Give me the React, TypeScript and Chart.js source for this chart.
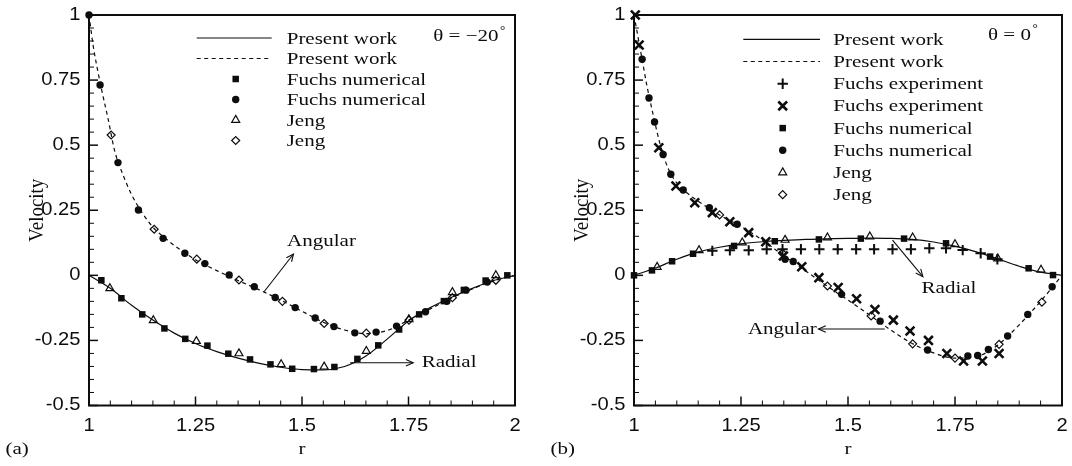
import React, { useEffect, useRef } from 'react';
import { Chart, registerables } from 'chart.js';

Chart.register(...registerables);

const INK = '#0d0d0d';
const SANS = '"Liberation Sans", Arial, Helvetica, sans-serif';
const SERIF = '"Liberation Serif", "Times New Roman", Times, serif';

// ---- axis ticks ----
const xTickValues = [1, 1.25, 1.5, 1.75, 2];
const xTickLabels = ['1', '1.25', '1.5', '1.75', '2'];
const yTickValues = [-0.5, -0.25, 0, 0.25, 0.5, 0.75, 1];
const yTickLabels = ['-0.5', '-0.25', '0', '0.25', '0.5', '0.75', '1'];
const minorStep = 0.05;

// ---- panel (a): theta = -20 deg ----
const aRadialLineR = [1, 1.05, 1.1, 1.15, 1.2, 1.25, 1.3, 1.35, 1.4, 1.45, 1.5, 1.55, 1.6, 1.65, 1.7, 1.75, 1.8, 1.85, 1.9, 1.95, 2];
const aRadialLineV = [0, -0.05, -0.115, -0.172, -0.222, -0.262, -0.293, -0.318, -0.338, -0.353, -0.362, -0.363, -0.35, -0.31, -0.245, -0.175, -0.125, -0.085, -0.05, -0.02, 0];
const aAngularLineR = [1, 1.01, 1.02, 1.03, 1.045, 1.06, 1.08, 1.1, 1.125, 1.15, 1.175, 1.2, 1.25, 1.3, 1.35, 1.4, 1.45, 1.5, 1.55, 1.6, 1.65, 1.7, 1.75, 1.8, 1.85, 1.9, 1.95, 2];
const aAngularLineV = [1, 0.88, 0.79, 0.71, 0.6, 0.48, 0.385, 0.31, 0.24, 0.185, 0.148, 0.115, 0.06, 0.018, -0.02, -0.056, -0.095, -0.138, -0.18, -0.21, -0.224, -0.212, -0.172, -0.13, -0.088, -0.052, -0.022, 0];
const aFuchsRadR = [1.029, 1.076, 1.125, 1.177, 1.226, 1.278, 1.327, 1.378, 1.426, 1.477, 1.528, 1.576, 1.63, 1.679, 1.728, 1.775, 1.833, 1.88, 1.931, 1.982];
const aFuchsRadV = [-0.019, -0.088, -0.15, -0.204, -0.244, -0.27, -0.301, -0.323, -0.342, -0.359, -0.36, -0.352, -0.321, -0.269, -0.208, -0.15, -0.099, -0.056, -0.02, 0];
const aFuchsAngR = [1, 1.026, 1.068, 1.116, 1.174, 1.225, 1.272, 1.329, 1.388, 1.437, 1.484, 1.531, 1.575, 1.624, 1.674, 1.722, 1.79, 1.84, 1.885, 1.935];
const aFuchsAngV = [1, 0.731, 0.433, 0.251, 0.142, 0.085, 0.045, 0.001, -0.044, -0.085, -0.124, -0.164, -0.197, -0.221, -0.218, -0.195, -0.14, -0.1, -0.057, -0.026];
const aJengRadR = [1.049, 1.151, 1.252, 1.352, 1.451, 1.552, 1.651, 1.751, 1.853, 1.955];
const aJengRadV = [-0.05, -0.173, -0.253, -0.3, -0.342, -0.351, -0.291, -0.169, -0.065, 0];
const aJengAngR = [1.052, 1.153, 1.253, 1.352, 1.454, 1.552, 1.651, 1.751, 1.853, 1.955];
const aJengAngV = [0.539, 0.177, 0.062, -0.018, -0.1, -0.185, -0.222, -0.172, -0.086, -0.019];

// ---- panel (b): theta = 0 deg ----
const bRadialLineR = [1, 1.05, 1.1, 1.15, 1.2, 1.25, 1.3, 1.35, 1.4, 1.45, 1.5, 1.55, 1.6, 1.65, 1.7, 1.75, 1.8, 1.85, 1.9, 1.95, 2];
const bRadialLineV = [0, 0.028, 0.062, 0.09, 0.108, 0.121, 0.129, 0.134, 0.138, 0.14, 0.142, 0.143, 0.142, 0.138, 0.128, 0.112, 0.09, 0.063, 0.035, 0.012, 0];
const bAngularLineR = [1, 1.01, 1.02, 1.03, 1.045, 1.06, 1.08, 1.1, 1.125, 1.15, 1.2, 1.25, 1.3, 1.35, 1.4, 1.45, 1.5, 1.55, 1.6, 1.65, 1.7, 1.75, 1.8, 1.85, 1.9, 1.95, 2];
const bAngularLineV = [1, 0.91, 0.82, 0.73, 0.615, 0.51, 0.41, 0.355, 0.315, 0.285, 0.232, 0.188, 0.135, 0.075, 0.018, -0.04, -0.095, -0.152, -0.21, -0.262, -0.298, -0.318, -0.312, -0.268, -0.19, -0.1, 0];
const bFuchsExpRadR = [1.183, 1.224, 1.268, 1.31, 1.347, 1.39, 1.433, 1.476, 1.519, 1.561, 1.604, 1.647, 1.69, 1.729, 1.768, 1.81, 1.849];
const bFuchsExpRadV = [0.094, 0.096, 0.096, 0.1, 0.1, 0.1, 0.1, 0.1, 0.1, 0.1, 0.1, 0.1, 0.104, 0.104, 0.097, 0.085, 0.062];
const bFuchsExpAngR = [1.003, 1.012, 1.058, 1.098, 1.142, 1.183, 1.224, 1.268, 1.308, 1.349, 1.392, 1.432, 1.477, 1.52, 1.563, 1.606, 1.645, 1.688, 1.731, 1.77, 1.814, 1.853];
const bFuchsExpAngV = [1, 0.885, 0.49, 0.343, 0.279, 0.241, 0.206, 0.164, 0.129, 0.074, 0.033, -0.009, -0.047, -0.09, -0.131, -0.172, -0.214, -0.25, -0.3, -0.329, -0.329, -0.3];
const bFuchsRadR = [1, 1.042, 1.089, 1.138, 1.234, 1.329, 1.432, 1.53, 1.631, 1.729, 1.832, 1.922, 1.979];
const bFuchsRadV = [0, 0.019, 0.054, 0.083, 0.113, 0.131, 0.138, 0.141, 0.141, 0.123, 0.072, 0.027, 0.001];
const bFuchsAngR = [1.019, 1.035, 1.048, 1.068, 1.086, 1.115, 1.176, 1.241, 1.353, 1.372, 1.485, 1.575, 1.686, 1.78, 1.803, 1.828, 1.873, 1.92, 1.977];
const bFuchsAngV = [0.83, 0.681, 0.589, 0.464, 0.388, 0.328, 0.26, 0.196, 0.062, 0.053, -0.073, -0.176, -0.287, -0.31, -0.308, -0.285, -0.233, -0.15, -0.044];
const bJengRadR = [1.054, 1.152, 1.253, 1.353, 1.452, 1.551, 1.651, 1.75, 1.85, 1.951];
const bJengRadV = [0.032, 0.096, 0.126, 0.136, 0.145, 0.149, 0.145, 0.119, 0.064, 0.021];
const bJengAngR = [1.2, 1.347, 1.452, 1.554, 1.651, 1.75, 1.853, 1.953];
const bJengAngV = [0.232, 0.085, -0.041, -0.156, -0.263, -0.318, -0.265, -0.103];

// ---- legends ----
const legendALabels = ['Present work', 'Present work', 'Fuchs numerical', 'Fuchs numerical', 'Jeng', 'Jeng'];
const legendAKinds = ['solid', 'dashed', 'rect', 'circle', 'triangle', 'rectRot'];
const legendBLabels = ['Present work', 'Present work', 'Fuchs experiment', 'Fuchs experiment', 'Fuchs numerical', 'Fuchs numerical', 'Jeng', 'Jeng'];
const legendBKinds = ['solid', 'dashed', 'cross', 'crossRot', 'rect', 'circle', 'triangle', 'rectRot'];

// ---- marker styles ----
const MARK: Record<string, { r: number; w: number; fill: boolean }> = {
  rect: { r: 4.6, w: 0, fill: true },
  circle: { r: 3.7, w: 0, fill: true },
  triangle: { r: 4.6, w: 1.2, fill: false },
  rectRot: { r: 4.0, w: 1.2, fill: false },
  cross: { r: 5.2, w: 2, fill: false },
  crossRot: { r: 6.2, w: 2.6, fill: false },
};

const pts = (rs: number[], vs: number[]) => rs.map((r, i) => ({ x: r, y: vs[i] }));

function markerSet(label: string, rs: number[], vs: number[], kind: string) {
  const m = MARK[kind];
  return {
    label,
    data: pts(rs, vs),
    showLine: false,
    pointStyle: kind,
    pointRadius: m.r,
    pointBorderWidth: m.w,
    pointBackgroundColor: m.fill ? INK : 'rgba(0,0,0,0)',
    pointBorderColor: INK,
    clip: false as const,
  };
}

function lineSet(label: string, rs: number[], vs: number[], dashed: boolean) {
  return {
    label,
    data: pts(rs, vs),
    showLine: true,
    pointRadius: 0,
    borderColor: INK,
    borderWidth: 1.2,
    borderDash: dashed ? [4, 3.5] : [],
    cubicInterpolationMode: 'monotone' as const,
    fill: false,
    clip: false as const,
  };
}

type Anno = { text: string; tx: number; ty: number; align: CanvasTextAlign; from: [number, number]; to: [number, number] };

type Spec = {
  id: string;
  tag: string;
  theta: string;
  pad: { left: number; right: number; top: number; bottom: number };
  datasets: any[];
  legendLabels: string[];
  legendKinds: string[];
  legendRow0: number;
  legendStep: number;
  legendLineX: [number, number];
  legendMarkX: number;
  legendTextX: number;
  thetaX: number;
  thetaY: number;
  annos: Anno[];
};

const panelA: Spec = {
  id: 'a',
  tag: '(a)',
  theta: 'θ = −20',
  pad: { left: 89, right: 21, top: 15, bottom: 60.5 },
  datasets: [
    markerSet('Fuchs numerical', aFuchsRadR, aFuchsRadV, 'rect'),
    markerSet('Fuchs numerical', aFuchsAngR, aFuchsAngV, 'circle'),
    markerSet('Jeng', aJengRadR, aJengRadV, 'triangle'),
    markerSet('Jeng', aJengAngR, aJengAngV, 'rectRot'),
    lineSet('Present work', aRadialLineR, aRadialLineV, false),
    lineSet('Present work', aAngularLineR, aAngularLineV, true),
  ],
  legendLabels: legendALabels,
  legendKinds: legendAKinds,
  legendRow0: 23,
  legendStep: 20.5,
  legendLineX: [107.7, 182.7],
  legendMarkX: 146.7,
  legendTextX: 197.7,
  thetaX: 344.3,
  thetaY: 21.7,
  annos: [
    { text: 'Angular', tx: 1.465, ty: 0.129, align: 'left', from: [1.411, -0.063], to: [1.48, 0.082] },
    { text: 'Radial', tx: 1.781, ty: -0.336, align: 'left', from: [1.613, -0.336], to: [1.761, -0.336] },
  ],
};

const panelB: Spec = {
  id: 'b',
  tag: '(b)',
  theta: 'θ = 0',
  pad: { left: 98, right: 10, top: 15, bottom: 60.5 },
  datasets: [
    markerSet('Fuchs experiment', bFuchsExpRadR, bFuchsExpRadV, 'cross'),
    markerSet('Fuchs experiment', bFuchsExpAngR, bFuchsExpAngV, 'crossRot'),
    markerSet('Fuchs numerical', bFuchsRadR, bFuchsRadV, 'rect'),
    markerSet('Fuchs numerical', bFuchsAngR, bFuchsAngV, 'circle'),
    markerSet('Jeng', bJengRadR, bJengRadV, 'triangle'),
    markerSet('Jeng', bJengAngR, bJengAngV, 'rectRot'),
    lineSet('Present work', bRadialLineR, bRadialLineV, false),
    lineSet('Present work', bAngularLineR, bAngularLineV, true),
  ],
  legendLabels: legendBLabels,
  legendKinds: legendBKinds,
  legendRow0: 24.3,
  legendStep: 22.2,
  legendLineX: [109.3, 186],
  legendMarkX: 148.7,
  legendTextX: 199.3,
  thetaX: 354,
  thetaY: 20,
  annos: [
    { text: 'Radial', tx: 1.672, ty: -0.051, align: 'left', from: [1.604, 0.135], to: [1.675, -0.005] },
    { text: 'Angular', tx: 1.427, ty: -0.206, align: 'right', from: [1.586, -0.206], to: [1.431, -0.206] },
  ],
};

const SERIF_FONT = `17.5px ${SERIF}`;
const SERIF_SX = 1.2;
const SANS_FONT = `17.5px ${SANS}`;
const SANS_SX = 1.15;

function txt(ctx: CanvasRenderingContext2D, s: string, x: number, y: number, font: string, align: CanvasTextAlign, sx: number) {
  ctx.save();
  ctx.translate(x, y);
  ctx.scale(sx, 1);
  ctx.font = font;
  ctx.textAlign = align;
  ctx.textBaseline = 'middle';
  ctx.fillStyle = INK;
  ctx.fillText(s, 0, 0);
  ctx.restore();
}

function drawMarker(ctx: CanvasRenderingContext2D, kind: string, x: number, y: number) {
  const m = MARK[kind];
  const r = m.r;
  ctx.save();
  ctx.fillStyle = INK;
  ctx.strokeStyle = INK;
  ctx.lineWidth = m.w;
  ctx.beginPath();
  if (kind === 'rect') {
    const s = r * Math.SQRT1_2;
    ctx.rect(x - s, y - s, 2 * s, 2 * s);
    ctx.fill();
  } else if (kind === 'circle') {
    ctx.arc(x, y, r, 0, Math.PI * 2);
    ctx.fill();
  } else if (kind === 'triangle') {
    ctx.moveTo(x, y - r);
    ctx.lineTo(x + 0.866 * r, y + 0.5 * r);
    ctx.lineTo(x - 0.866 * r, y + 0.5 * r);
    ctx.closePath();
    ctx.stroke();
  } else if (kind === 'rectRot') {
    ctx.moveTo(x - r, y);
    ctx.lineTo(x, y - r);
    ctx.lineTo(x + r, y);
    ctx.lineTo(x, y + r);
    ctx.closePath();
    ctx.stroke();
  } else if (kind === 'cross') {
    ctx.moveTo(x, y - r);
    ctx.lineTo(x, y + r);
    ctx.moveTo(x - r, y);
    ctx.lineTo(x + r, y);
    ctx.stroke();
  } else if (kind === 'crossRot') {
    const d = r * Math.SQRT1_2;
    ctx.moveTo(x - d, y - d);
    ctx.lineTo(x + d, y + d);
    ctx.moveTo(x + d, y - d);
    ctx.lineTo(x - d, y + d);
    ctx.stroke();
  }
  ctx.restore();
}

function arrow(ctx: CanvasRenderingContext2D, x1: number, y1: number, x2: number, y2: number) {
  ctx.save();
  ctx.strokeStyle = INK;
  ctx.lineWidth = 1.1;
  ctx.beginPath();
  ctx.moveTo(x1, y1);
  ctx.lineTo(x2, y2);
  ctx.stroke();
  const a = Math.atan2(y2 - y1, x2 - x1);
  const L = 8;
  const w = 0.42;
  ctx.beginPath();
  ctx.moveTo(x2 - L * Math.cos(a - w), y2 - L * Math.sin(a - w));
  ctx.lineTo(x2, y2);
  ctx.lineTo(x2 - L * Math.cos(a + w), y2 - L * Math.sin(a + w));
  ctx.stroke();
  ctx.restore();
}

function makeDecor(spec: Spec) {
  return {
    id: 'decor_' + spec.id,
    beforeDatasetsDraw(chart: any) {
      const ctx: CanvasRenderingContext2D = chart.ctx;
      const { left, right, top, bottom } = chart.chartArea;
      const xs = chart.scales.x;
      const ys = chart.scales.y;
      ctx.save();
      ctx.strokeStyle = INK;
      const nx = Math.round((xs.max - xs.min) / minorStep);
      for (let i = 0; i <= nx; i++) {
        const v = xs.min + i * minorStep;
        const major = xTickValues.some((t) => Math.abs(t - v) < 1e-6);
        const px = xs.getPixelForValue(v);
        ctx.lineWidth = major ? 1.5 : 1;
        ctx.beginPath();
        ctx.moveTo(px, bottom);
        ctx.lineTo(px, bottom - (major ? 9 : 5));
        ctx.stroke();
      }
      const ny = Math.round((ys.max - ys.min) / minorStep);
      for (let i = 0; i <= ny; i++) {
        const v = ys.min + i * minorStep;
        const major = yTickValues.some((t) => Math.abs(t - v) < 1e-6);
        const py = ys.getPixelForValue(v);
        ctx.lineWidth = major ? 1.5 : 1;
        ctx.beginPath();
        ctx.moveTo(left, py);
        ctx.lineTo(left + (major ? 9 : 5), py);
        ctx.stroke();
      }
      ctx.lineWidth = 2;
      ctx.strokeRect(left, top, right - left, bottom - top);
      ctx.restore();
    },
    afterDraw(chart: any) {
      const ctx: CanvasRenderingContext2D = chart.ctx;
      const { left, right, top, bottom } = chart.chartArea;
      const xs = chart.scales.x;
      const ys = chart.scales.y;
      xTickValues.forEach((v, i) => {
        txt(ctx, xTickLabels[i], xs.getPixelForValue(v), bottom + 21, SANS_FONT, 'center', SANS_SX);
      });
      yTickValues.forEach((v, i) => {
        txt(ctx, yTickLabels[i], left - 8.5, ys.getPixelForValue(v), SANS_FONT, 'right', SANS_SX);
      });
      txt(ctx, 'r', (left + right) / 2, bottom + 44, SERIF_FONT, 'center', SERIF_SX);
      ctx.save();
      ctx.translate(left - 52, (top + bottom) / 2);
      ctx.rotate(-Math.PI / 2);
      ctx.scale(1.08, 1.2);
      ctx.font = SERIF_FONT;
      ctx.textAlign = 'center';
      ctx.textBaseline = 'middle';
      ctx.fillStyle = INK;
      ctx.fillText('Velocity', 0, 0);
      ctx.restore();
      txt(ctx, spec.tag, left - 83.5, bottom + 44, SERIF_FONT, 'left', SERIF_SX);
      spec.legendLabels.forEach((lab, i) => {
        const y = top + spec.legendRow0 + i * spec.legendStep;
        const kind = spec.legendKinds[i];
        if (kind === 'solid' || kind === 'dashed') {
          ctx.save();
          ctx.strokeStyle = INK;
          ctx.lineWidth = 1.2;
          ctx.setLineDash(kind === 'dashed' ? [4, 3.5] : []);
          ctx.beginPath();
          ctx.moveTo(left + spec.legendLineX[0], y);
          ctx.lineTo(left + spec.legendLineX[1], y);
          ctx.stroke();
          ctx.restore();
        } else {
          drawMarker(ctx, kind, left + spec.legendMarkX, y);
        }
        txt(ctx, lab, left + spec.legendTextX, y + 1, SERIF_FONT, 'left', SERIF_SX);
      });
      ctx.save();
      ctx.font = SERIF_FONT;
      const tw = ctx.measureText(spec.theta).width * SERIF_SX;
      ctx.restore();
      const thx = left + spec.thetaX;
      const thy = top + spec.thetaY;
      txt(ctx, spec.theta, thx, thy, SERIF_FONT, 'left', SERIF_SX);
      txt(ctx, '°', thx + tw + 1.5, thy - 6, `12px ${SERIF}`, 'left', 1.1);
      spec.annos.forEach((a) => {
        arrow(ctx, xs.getPixelForValue(a.from[0]), ys.getPixelForValue(a.from[1]), xs.getPixelForValue(a.to[0]), ys.getPixelForValue(a.to[1]));
        txt(ctx, a.text, xs.getPixelForValue(a.tx), ys.getPixelForValue(a.ty), SERIF_FONT, a.align, SERIF_SX);
      });
    },
  };
}

function buildConfig(spec: Spec): any {
  return {
    type: 'scatter',
    data: { datasets: spec.datasets },
    options: {
      animation: false,
      responsive: false,
      maintainAspectRatio: false,
      devicePixelRatio: 1,
      events: [],
      layout: { padding: spec.pad },
      scales: {
        x: { type: 'linear', min: 1, max: 2, display: false },
        y: { type: 'linear', min: -0.5, max: 1, display: false },
      },
      plugins: { legend: { display: false }, tooltip: { enabled: false }, title: { display: false } },
    },
    plugins: [makeDecor(spec)],
  };
}

function Panel({ spec, left }: { spec: Spec; left: number }) {
  const ref = useRef<HTMLCanvasElement>(null);
  useEffect(() => {
    if (!ref.current) return;
    const chart = new Chart(ref.current, buildConfig(spec));
    return () => chart.destroy();
  }, [spec]);
  return (
    <canvas
      ref={ref}
      width={536}
      height={466}
      style={{ position: 'absolute', left, top: 0, width: 536, height: 466, display: 'block' }}
    />
  );
}

export default function App() {
  return (
    <div style={{ position: 'fixed', left: 0, top: 0, width: 1072, height: 466, background: '#fff', overflow: 'hidden' }}>
      <Panel spec={panelA} left={0} />
      <Panel spec={panelB} left={536} />
    </div>
  );
}
